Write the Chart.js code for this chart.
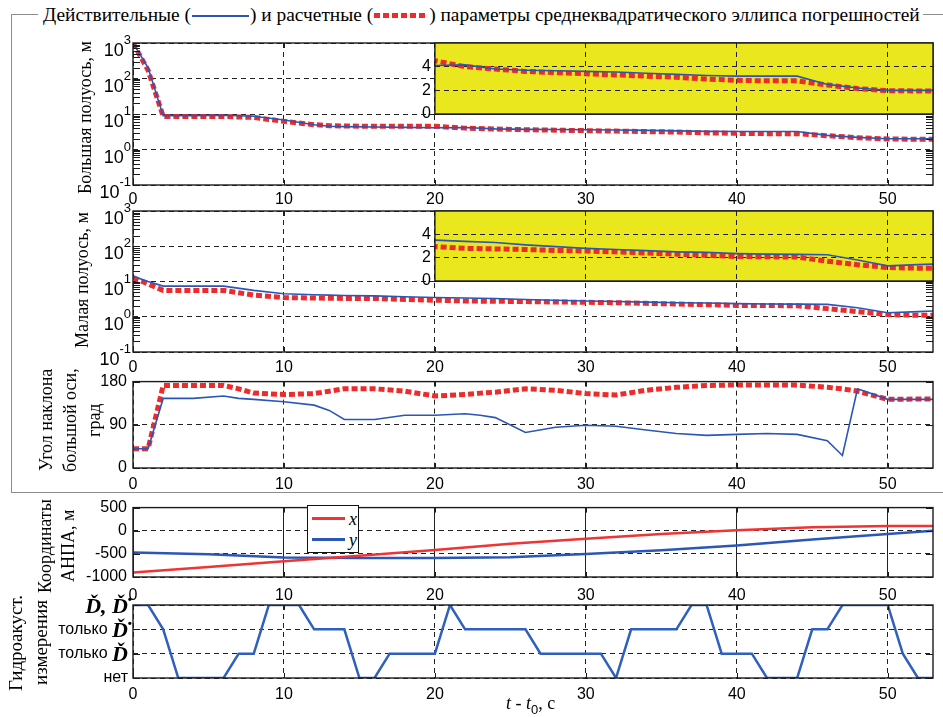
<!DOCTYPE html>
<html lang="ru">
<head>
<meta charset="utf-8">
<title>Параметры эллипса погрешностей</title>
<script src="https://cdn.jsdelivr.net/npm/chart.js@4.4.1/dist/chart.umd.min.js"></script>
<style>
  html, body { margin: 0; padding: 0; background: #fff; }
  body { position: relative; width: 943px; height: 717px; overflow: hidden; font-family: 'Liberation Serif', 'Times New Roman', serif; color: #000; }
  canvas { position: absolute; }
  .frame { position: absolute; left: 11px; top: 14px; width: 960px; height: 477px; border: 1.5px solid #8c8c8c; border-right: none; }
  .head { position: absolute; left: 38px; top: 3px; padding: 0 3px 0 5px; background: #fff; font-size: 19.4px; line-height: 24px; white-space: nowrap; }
  .smp { display: inline-block; vertical-align: middle; margin: 0 1px; position: relative; top: -1px; }
  .smp.act { width: 57px; height: 2px; background: #2a56b8; }
  .smp.est { width: 54px; height: 5px; background: repeating-linear-gradient(90deg, #ee2b2b 0 6px, transparent 6px 9px); }
  .ytitle { position: absolute; writing-mode: vertical-rl; transform: rotate(180deg); text-align: center; font-size: 18px; white-space: nowrap; }
  .xtitle { position: absolute; left: 506px; top: 693px; font-size: 18px; white-space: nowrap; }
  .xtitle sub { font-family: 'Liberation Sans', Arial, sans-serif; font-size: 13px; }
  .lgd { position: absolute; left: 307px; top: 505px; width: 50px; height: 44px; border: 1.5px solid #111; background: #fff; padding-top: 2px; box-sizing: content-box; }
  .lgd .row { height: 21px; display: flex; align-items: center; }
  .lgd .ln { width: 33px; height: 2.5px; margin: 0 4px 0 4px; }
  .lgd i { font-size: 18px; line-height: 18px; }
</style>
</head>
<body>
<div class="frame"></div>
<div class="head">Действительные (<span class="smp act"></span>) и расчетные (<span class="smp est"></span>) параметры среднеквадратического эллипса погрешностей</div>

<script>
var SANS = "'Liberation Sans', Arial, sans-serif";
var SERIF = "'Liberation Serif', 'Times New Roman', serif";
var C_ACT = '#2a56b8';
var C_EST = '#ee2b2b';
var C_X = '#ef3434';
var C_Y = '#2c57b6';
var C_INSET = '#ebe71f';

// semi-axes of the error ellipse, m
var tAxes = [0, 1, 2, 4, 6, 8, 10, 12, 13, 14, 16, 18, 20, 22, 24, 26, 28, 30, 32, 34, 36, 38, 40, 42, 44, 46, 48, 50, 52, 53];
var majorActual = [1000, 200, 9, 9, 9.2, 8.6, 6.8, 5.0, 4.5, 4.4, 4.3, 4.2, 4.1, 4.15, 3.8, 3.7, 3.65, 3.6, 3.55, 3.45, 3.35, 3.25, 3.2, 3.2, 3.2, 2.5, 2.2, 2.0, 2.0, 2.0];
var majorEst = [1000, 170, 8.5, 8.5, 8.5, 8.0, 6.2, 5.0, 4.7, 4.6, 4.5, 4.5, 4.5, 4.0, 3.8, 3.6, 3.5, 3.4, 3.3, 3.2, 3.1, 2.95, 2.85, 2.8, 2.8, 2.45, 2.15, 1.97, 1.95, 1.95];
var minorActual = [14, 10, 7.4, 7.4, 7.4, 5.6, 4.5, 4.2, 4.1, 4.0, 3.9, 3.7, 3.5, 3.4, 3.3, 3.1, 2.95, 2.8, 2.7, 2.6, 2.5, 2.45, 2.35, 2.3, 2.28, 2.25, 1.8, 1.3, 1.4, 1.45];
var minorEst = [13, 8.5, 5.6, 5.6, 5.6, 4.1, 3.5, 3.4, 3.35, 3.3, 3.3, 3.1, 2.95, 2.8, 2.75, 2.7, 2.62, 2.57, 2.5, 2.4, 2.3, 2.2, 2.1, 2.08, 2.05, 1.7, 1.4, 1.15, 1.1, 1.1];

// major axis inclination, deg
var tAngle = [0, 1, 2, 4, 6, 7, 8, 10, 12, 13, 14, 16, 18, 20, 22, 23, 24, 26, 28, 30, 32, 34, 36, 38, 40, 42, 44, 46, 47, 48, 50, 53];
var angleActual = [40, 40, 145, 145, 150, 145, 143, 138, 131, 120, 101, 101, 110, 110, 113, 110, 105, 74, 85, 89, 87, 79, 72, 68, 70, 72, 70, 57, 26, 165, 143, 143];
var angleEst = [40, 40, 172, 172, 172, 165, 156, 153, 155, 160, 165, 165, 160, 150, 153, 156, 158, 165, 162, 155, 152, 162, 168, 172, 173, 173, 173, 168, 165, 160, 143, 144];

// vehicle coordinates, m
var tPos = [0, 5, 10, 15, 20, 25, 30, 35, 40, 45, 50, 53];
var posX = [-905, -785, -660, -540, -415, -280, -175, -70, 10, 75, 102, 105];
var posY = [-470, -510, -577, -592, -590, -572, -505, -420, -318, -190, -70, 0];

// hydroacoustic measurements available: 0 none, 1 range only, 2 rate only, 3 both
var tMeas = [0, 1, 2, 3, 6, 7, 8, 9, 11, 12, 14, 15, 16, 17, 20, 21, 22, 26, 27, 31, 32, 33, 36, 37, 38, 39, 41, 42, 44, 45, 46, 47, 50, 51, 52, 53];
var measLevel = [3, 3, 2, 0, 0, 1, 1, 3, 3, 2, 2, 0, 0, 1, 1, 3, 2, 2, 1, 1, 0, 2, 2, 3, 3, 1, 1, 0, 0, 2, 2, 3, 3, 1, 0, 0];

var xTicks = [0, 10, 20, 30, 40, 50];
var logTicks = [0.1, 1, 10, 100, 1000];
var insetTicks = [0, 2, 4];
var angleTicks = [0, 90, 180];
var posTicks = [-1000, -500, 0, 500];
var measTicks = [0, 1, 2, 3];
var measLabels = [
  [['нет', 's']],
  [['только ', 's'], ['D\u030C', 'm']],
  [['только ', 's'], ['D\u030C\u0307', 'm']],
  [['D\u030C, D\u030C\u0307', 'm']]
];

// plot boxes [top, bottom] in page pixels
var BOX = {
  major: [43, 185],
  minor: [211, 352],
  angle: [378, 468],
  pos: [504, 577],
  meas: [605, 678]
};
// zoomed insets: from the top of the log panel down to its 10^1 line
var INSET_BOX = {
  major: [43, 114],
  minor: [211, 281]
};
var PLOT_LEFT = 133, PLOT_RIGHT = 933, PAGE_W = 943;

function pts(t, v) {
  return t.map(function (x, i) { return { x: x, y: v[i] }; });
}
function setTicks(list) {
  return function (s) { s.ticks = list.map(function (v) { return { value: v }; }); };
}
function plainNum(v) { return String(v); }

Chart.register({
  id: 'areaFill',
  beforeDraw: function (chart, args, opts) {
    if (!opts.color) return;
    var a = chart.chartArea, ctx = chart.ctx;
    ctx.save();
    ctx.fillStyle = opts.color;
    ctx.fillRect(a.left, a.top, a.right - a.left, a.bottom - a.top);
    ctx.restore();
  }
});

// box round the plot with inward tick marks (and log minor ticks)
Chart.register({
  id: 'frameBox',
  afterDraw: function (chart, args, opts) {
    var a = chart.chartArea, ctx = chart.ctx, xs = chart.scales.x, ys = chart.scales.y;
    var len = opts.tick || 0;
    ctx.save();
    ctx.strokeStyle = '#1a1a1a';
    if (len) {
      ctx.lineWidth = 1;
      ctx.beginPath();
      xs.ticks.forEach(function (t) {
        var p = Math.round(xs.getPixelForValue(t.value)) + 0.5;
        ctx.moveTo(p, a.top); ctx.lineTo(p, a.top + len);
        ctx.moveTo(p, a.bottom); ctx.lineTo(p, a.bottom - len);
      });
      var vals = ys.ticks.map(function (t) { return t.value; });
      if (opts.minor) {
        for (var e = Math.round(Math.log10(ys.min)); e < Math.round(Math.log10(ys.max)); e++) {
          for (var m = 2; m <= 9; m++) vals.push(m * Math.pow(10, e));
        }
      }
      vals.forEach(function (v) {
        var p = Math.round(ys.getPixelForValue(v)) + 0.5;
        ctx.moveTo(a.left, p); ctx.lineTo(a.left + len + 2, p);
        ctx.moveTo(a.right, p); ctx.lineTo(a.right - len - 2, p);
      });
      ctx.stroke();
    }
    ctx.lineWidth = 1.4;
    ctx.strokeRect(a.left, a.top, a.right - a.left, a.bottom - a.top);
    ctx.restore();
  }
});

// 10^n labels for the log axes
Chart.register({
  id: 'powLabels',
  afterDraw: function (chart, args, opts) {
    if (!opts.on) return;
    var ys = chart.scales.y, ctx = chart.ctx, right = chart.chartArea.left - 2;
    ctx.save();
    ctx.fillStyle = '#000';
    ctx.textBaseline = 'alphabetic';
    ys.ticks.forEach(function (t) {
      var y = ys.getPixelForValue(t.value);
      var e = String(Math.round(Math.log10(t.value)));
      ctx.font = '13px ' + SANS;
      var ew = ctx.measureText(e).width;
      ctx.textAlign = 'left';
      ctx.fillText(e, right - ew, y + 1);
      ctx.font = '18px ' + SANS;
      ctx.textAlign = 'right';
      ctx.fillText('10', right - ew, y + 13);
    });
    ctx.restore();
  }
});

// mixed-font labels for the measurement levels
Chart.register({
  id: 'levelLabels',
  afterDraw: function (chart, args, opts) {
    if (!opts.labels) return;
    var ys = chart.scales.y, ctx = chart.ctx, right = chart.chartArea.left - 5;
    ctx.save();
    ctx.fillStyle = '#000';
    ctx.textBaseline = 'middle';
    ctx.textAlign = 'left';
    ys.ticks.forEach(function (t) {
      var parts = opts.labels[t.value];
      if (!parts) return;
      var y = ys.getPixelForValue(t.value);
      var fonts = parts.map(function (p) { return p[1] === 'm' ? 'bold italic 22px ' + SERIF : '16px ' + SANS; });
      var w = 0;
      parts.forEach(function (p, i) { ctx.font = fonts[i]; w += ctx.measureText(p[0]).width; });
      var x = right - w;
      parts.forEach(function (p, i) {
        ctx.font = fonts[i];
        ctx.fillText(p[0], x, y + (p[1] === 'm' ? 2 : 0));
        x += ctx.measureText(p[0]).width;
      });
    });
    ctx.restore();
  }
});

function makeCanvas(left, top, w, h) {
  var cv = document.createElement('canvas');
  cv.width = w; cv.height = h;
  cv.style.left = left + 'px';
  cv.style.top = top + 'px';
  cv.style.width = w + 'px';
  cv.style.height = h + 'px';
  document.body.appendChild(cv);
  return cv;
}

function actLine(data, color, width) {
  return { data: data, borderColor: color, backgroundColor: color, borderWidth: width, pointRadius: 0, tension: 0 };
}
function estLine(data) {
  return { data: data, borderColor: C_EST, backgroundColor: C_EST, borderWidth: 5, borderDash: [6, 3], borderCapStyle: 'butt', pointRadius: 0, tension: 0 };
}

function xScale(pad, solid) {
  return {
    type: 'linear', min: 0, max: 53,
    afterBuildTicks: setTicks(xTicks),
    afterFit: function (s) { s.height = 30; },
    grid: { color: '#222', lineWidth: 1, drawTicks: false },
    border: { display: false, dash: solid ? [] : [5, 4] },
    ticks: { color: '#000', font: { family: SANS, size: 16 }, padding: pad, maxRotation: 0 }
  };
}

function panel(box, datasets, yOpts, plug, xPad, xSolid) {
  var padTop = 12;
  var cv = makeCanvas(0, box[0] - padTop, PAGE_W, box[1] - box[0] + padTop + 30);
  var y = Object.assign({
    afterFit: function (s) { s.width = PLOT_LEFT; },
    grid: { color: '#222', lineWidth: 1, drawTicks: false },
    border: { display: false, dash: [5, 4] },
    ticks: { color: '#000', font: { family: SANS, size: 16 }, padding: 6, callback: plainNum }
  }, yOpts);
  return new Chart(cv, {
    type: 'line',
    data: { datasets: datasets },
    options: {
      responsive: false,
      animation: false,
      events: [],
      layout: { padding: { left: 0, right: PAGE_W - PLOT_RIGHT, top: padTop, bottom: 0 } },
      plugins: Object.assign({ legend: { display: false }, tooltip: { enabled: false }, frameBox: { tick: 5 } }, plug),
      scales: { x: xScale(xPad, xSolid), y: y }
    }
  });
}

function inset(box, act, est) {
  var left = 400, padTop = 6, padBot = 10;
  var cv = makeCanvas(left, box[0] - padTop, PAGE_W - left, box[1] - box[0] + padTop + padBot);
  var a = actLine(act, C_ACT, 1.6); a.clip = 0;
  var e = estLine(est); e.clip = 0;
  return new Chart(cv, {
    type: 'line',
    data: { datasets: [a, e] },
    options: {
      responsive: false,
      animation: false,
      events: [],
      layout: { padding: { left: 0, right: PAGE_W - PLOT_RIGHT, top: padTop, bottom: padBot } },
      plugins: { legend: { display: false }, tooltip: { enabled: false }, areaFill: { color: C_INSET }, frameBox: { tick: 0 } },
      scales: {
        x: {
          type: 'linear', min: 20, max: 53,
          afterBuildTicks: setTicks(xTicks.filter(function (v) { return v >= 20; })),
          afterFit: function (s) { s.height = 0; s.paddingLeft = 0; s.paddingRight = 0; },
          grid: { color: '#222', lineWidth: 1, drawTicks: false },
          border: { display: false, dash: [5, 4] },
          ticks: { display: false }
        },
        y: {
          min: 0, max: 6,
          afterBuildTicks: setTicks(insetTicks),
          afterFit: function (s) {
            s.width = PLOT_LEFT + 20 * (PLOT_RIGHT - PLOT_LEFT) / 53 - left;
            s.paddingTop = 0;
            s.paddingBottom = 0;
          },
          grid: { color: '#222', lineWidth: 1, drawTicks: false },
          border: { display: false, dash: [5, 4] },
          ticks: { color: '#000', font: { family: SANS, size: 16 }, padding: 4 }
        }
      }
    }
  });
}

function logY() {
  return { type: 'logarithmic', min: 0.1, max: 1000, afterBuildTicks: setTicks(logTicks), ticks: { display: false } };
}

panel(BOX.major, [actLine(pts(tAxes, majorActual), C_ACT, 1.6), estLine(pts(tAxes, majorEst))],
  logY(), { powLabels: { on: true }, frameBox: { tick: 5, minor: true } }, 5);
panel(BOX.minor, [actLine(pts(tAxes, minorActual), C_ACT, 1.6), estLine(pts(tAxes, minorEst))],
  logY(), { powLabels: { on: true }, frameBox: { tick: 5, minor: true } }, 6);
panel(BOX.angle, [actLine(pts(tAngle, angleActual), C_ACT, 1.6), estLine(pts(tAngle, angleEst))],
  { min: 0, max: 180, afterBuildTicks: setTicks(angleTicks) }, {}, 7);
var posChart = panel(BOX.pos, [
    Object.assign(actLine(pts(tPos, posX), C_X, 2.5), { label: 'x' }),
    Object.assign(actLine(pts(tPos, posY), C_Y, 2.5), { label: 'y' })
  ],
  { min: -1000, max: 500, afterBuildTicks: setTicks(posTicks) }, {}, 9, true);
panel(BOX.meas, [actLine(pts(tMeas, measLevel), '#2f5fbf', 2.5)],
  { min: 0, max: 3, afterBuildTicks: setTicks(measTicks), ticks: { display: false } },
  { levelLabels: { labels: measLabels } }, 7);

inset(INSET_BOX.major, pts(tAxes, majorActual), pts(tAxes, majorEst));
inset(INSET_BOX.minor, pts(tAxes, minorActual), pts(tAxes, minorEst));

// legend for the coordinates panel, built from its datasets
var lgd = document.createElement('div');
lgd.className = 'lgd';
lgd.innerHTML = posChart.data.datasets.map(function (d) {
  return '<div class="row"><span class="ln" style="background:' + d.borderColor + '"></span><i>' + d.label + '</i></div>';
}).join('');
document.body.appendChild(lgd);

// axis titles
function ytitle(html, left, top, w, h, lh, size) {
  var d = document.createElement('div');
  d.className = 'ytitle';
  d.style.left = left + 'px'; d.style.top = top + 'px';
  d.style.width = w + 'px'; d.style.height = h + 'px';
  d.style.lineHeight = lh + 'px';
  if (size) d.style.fontSize = size + 'px';
  d.innerHTML = html;
  document.body.appendChild(d);
}
ytitle('Большая полуось, м', 75, 28, 20, 180, 20);
ytitle('Малая полуось, м', 72, 190, 20, 180, 20);
ytitle('Угол наклона<br>большой оси,<br>град', 34, 330, 72, 180, 24);
ytitle('Координаты<br>АНПА, м', 34, 456, 46, 180, 23);
ytitle('Гидроакуст.<br>измерения', 3, 553, 50, 180, 25, 19);

var xt = document.createElement('div');
xt.className = 'xtitle';
xt.innerHTML = '<i>t</i> - <i>t</i><sub>0</sub>, с';
document.body.appendChild(xt);
</script>
</body>
</html>
